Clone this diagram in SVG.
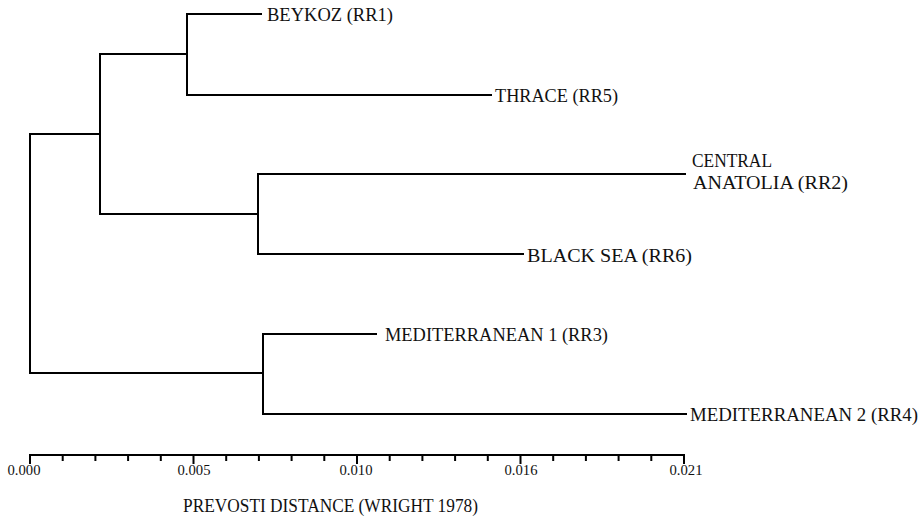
<svg xmlns="http://www.w3.org/2000/svg" width="921" height="516" viewBox="0 0 921 516">
<style>
.br{stroke:#000;stroke-width:2;fill:none;stroke-linecap:square}
.lb{font-family:"Liberation Serif","DejaVu Serif","Times New Roman",serif;font-size:19px;fill:#111}
.tk{font-family:"Liberation Serif","DejaVu Serif","Times New Roman",serif;font-size:15px;fill:#111}
.ti{font-family:"Liberation Serif","DejaVu Serif","Times New Roman",serif;font-size:18px;fill:#111}
</style>
<rect width="921" height="516" fill="#fff"/>
<g id="connectors" class="br">
<path d="M100,134 H30 V373 H263"/>
<path d="M187,54 H100 V214 H258"/>
<path d="M261,14 H187 V95 H491"/>
<path d="M685,174 H258 V254 H523"/>
<path d="M376,334 H263 V414 H686"/>
</g>
<g id="n-beykoz"><text class="lb" x="267" y="21" textLength="126" lengthAdjust="spacingAndGlyphs">BEYKOZ (RR1)</text></g>
<g id="n-thrace"><text class="lb" x="495" y="102" textLength="123" lengthAdjust="spacingAndGlyphs">THRACE (RR5)</text></g>
<g id="n-central"><text class="lb" x="692" y="167" textLength="80" lengthAdjust="spacingAndGlyphs">CENTRAL</text><text class="lb" x="693" y="189" textLength="155" lengthAdjust="spacingAndGlyphs">ANATOLIA (RR2)</text></g>
<g id="n-blacksea"><text class="lb" x="527" y="262" textLength="165" lengthAdjust="spacingAndGlyphs">BLACK SEA (RR6)</text></g>
<g id="n-med1"><text class="lb" x="385" y="341" textLength="223" lengthAdjust="spacingAndGlyphs">MEDITERRANEAN 1 (RR3)</text></g>
<g id="n-med2"><text class="lb" x="690" y="421" textLength="228" lengthAdjust="spacingAndGlyphs">MEDITERRANEAN 2 (RR4)</text></g>
<g id="axis">
<path class="br" d="M30,455 H684"/>
<path class="br" stroke-linecap="butt" d="M30,455v8 M193.5,455v8 M357,455v8 M520.5,455v8 M684,455v8 M62.7,455v5 M95.4,455v5 M128.1,455v5 M160.8,455v5 M226.2,455v5 M258.9,455v5 M291.6,455v5 M324.3,455v5 M389.7,455v5 M422.4,455v5 M455.1,455v5 M487.8,455v5 M553.2,455v5 M585.9,455v5 M618.6,455v5 M651.3,455v5"/>
<g class="tk" text-anchor="middle">
<text x="24" y="475" textLength="33" lengthAdjust="spacingAndGlyphs">0.000</text>
<text x="194" y="475" textLength="33" lengthAdjust="spacingAndGlyphs">0.005</text>
<text x="356" y="475" textLength="33" lengthAdjust="spacingAndGlyphs">0.010</text>
<text x="521" y="475" textLength="33" lengthAdjust="spacingAndGlyphs">0.016</text>
<text x="686" y="475" textLength="33" lengthAdjust="spacingAndGlyphs">0.021</text>
</g>
<text class="ti" x="183" y="512" textLength="295" lengthAdjust="spacingAndGlyphs">PREVOSTI DISTANCE (WRIGHT 1978)</text>
</g>
</svg>
